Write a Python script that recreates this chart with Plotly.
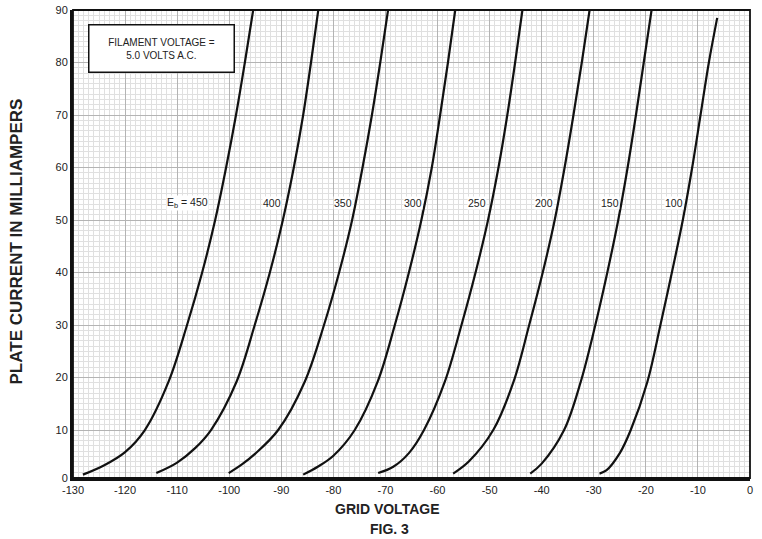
import plotly.graph_objects as go

# Plate current (mA) vs grid voltage (V) for each plate voltage Eb
eb_values = ["450", "400", "350", "300", "250", "200", "150", "100"]

v450 = [-128.1, -124.0, -120.0, -116.2, -111.65, -108.1, -105.2, -102.7, -100.6, -98.7, -97.0, -95.4]
i450 = [1.5, 3.3, 5.8, 10, 19.2, 30, 40, 50, 60, 70, 80, 90]

v400 = [-114.0, -110.0, -106.5, -103.5, -98.6, -95.1, -92.2, -89.7, -87.6, -85.8, -84.3, -82.9]
i400 = [1.8, 3.8, 6.6, 10, 19.2, 30, 40, 50, 60, 70, 80, 90]

v350 = [-100.1, -97.5, -95.0, -90.6, -85.5, -81.8, -78.9, -76.4, -74.4, -72.6, -71.0, -69.5]
i350 = [1.8, 3.5, 5.5, 10, 19.2, 30, 40, 50, 60, 70, 80, 90]

v300 = [-85.8, -83.0, -80.0, -75.9, -71.5, -68.2, -65.5, -63.1, -61.1, -59.5, -58.0, -56.6]
i300 = [1.5, 3.0, 5.1, 10, 19.2, 30, 40, 50, 60, 70, 80, 90]

v250 = [-71.4, -68.5, -65.5, -62.6, -58.6, -55.4, -52.7, -50.3, -48.3, -46.6, -45.1, -43.7]
i250 = [1.8, 3.0, 5.6, 10, 19.2, 30, 40, 50, 60, 70, 80, 90]

v200 = [-57.0, -54.0, -49.3, -45.4, -42.4, -39.8, -37.5, -35.6, -33.9, -32.3, -30.8]
i200 = [1.7, 4.0, 10, 19.2, 30, 40, 50, 60, 70, 80, 90]

v150 = [-42.2, -40.0, -35.7, -32.5, -29.7, -27.4, -25.3, -23.5, -21.9, -20.4, -18.9]
i150 = [1.7, 3.6, 10, 19.2, 30, 40, 50, 60, 70, 80, 90]

v100 = [-28.9, -27.6, -25.0, -22.9, -19.7, -17.2, -15.0, -12.9, -11.1, -9.5, -7.9, -6.3]
i100 = [1.7, 2.3, 5.6, 10, 19.2, 30, 40, 50, 60, 70, 80, 88.5]

curves_v = [v450, v400, v350, v300, v250, v200, v150, v100]
curves_i = [i450, i400, i350, i300, i250, i200, i150, i100]

# curve labels
label_text = ["E<sub>b</sub> = 450", "400", "350", "300", "250", "200", "150", "100"]
label_x = [-108.0, -91.8, -78.1, -64.7, -52.5, -39.5, -26.8, -14.5]
label_y = [53.2] * 8

x_ticks = list(range(-130, 1, 10))
x_tick_text = [str(v) for v in x_ticks]
y_tick_vals = [0.86, 10, 20, 30, 40, 50, 60, 70, 80, 90]
y_tick_text = ["0", "10", "20", "30", "40", "50", "60", "70", "80", "90"]

FONT = "Liberation Sans, Arial, Helvetica, sans-serif"
TXT = "#222222"

fig = go.Figure()
for vs, cs, eb in zip(curves_v, curves_i, eb_values):
    fig.add_trace(go.Scatter(
        x=vs, y=cs, mode="lines", name="Eb=" + eb,
        line=dict(color="#111111", width=2.2, shape="spline", smoothing=1.0),
        hoverinfo="x+y", showlegend=False,
    ))

for t, x, y in zip(label_text, label_x, label_y):
    fig.add_annotation(x=x, y=y, text=t, showarrow=False,
                       font=dict(family=FONT, size=10.5, color=TXT),
                       bgcolor="white", borderpad=0)

# filament voltage box
fig.add_annotation(x=-113.0, y=82.6, text="FILAMENT VOLTAGE =<br>5.0 VOLTS A.C.",
                   showarrow=False, font=dict(family=FONT, size=10, color=TXT),
                   bgcolor="white", bordercolor="#111111", borderwidth=1.5,
                   width=140, height=42, borderpad=2)

# titles
fig.add_annotation(xref="paper", yref="paper", x=-0.083, y=0.505,
                   xanchor="center", yanchor="middle",
                   text="<b>PLATE CURRENT IN MILLIAMPERS</b>",
                   textangle=-90, showarrow=False, font=dict(family=FONT, size=17, color=TXT))
fig.add_annotation(xref="paper", yref="paper", x=0.464, y=-0.066,
                   xanchor="center", yanchor="middle", text="<b>GRID VOLTAGE</b>",
                   showarrow=False, font=dict(family=FONT, size=14, color=TXT))
fig.add_annotation(xref="paper", yref="paper", x=0.467, y=-0.109,
                   xanchor="center", yanchor="middle", text="<b>FIG. 3</b>",
                   showarrow=False, font=dict(family=FONT, size=14, color=TXT))

# frame
fig.add_shape(type="rect", xref="paper", yref="paper", x0=0, y0=0, x1=1, y1=1,
              line=dict(color="#111111", width=1.8), layer="above")

fig.update_xaxes(range=[-130, 0], tickvals=x_ticks, ticktext=x_tick_text, ticks="",
                 automargin=False,
                 showgrid=True, gridcolor="#b4b4b4", gridwidth=1.2,
                 minor=dict(dtick=1, tick0=0, showgrid=True, gridcolor="#e0e0e0", gridwidth=0.6),
                 showline=True, linecolor="#111111", linewidth=3, zeroline=False,
                 tickfont=dict(family=FONT, size=11, color=TXT))
fig.update_yaxes(range=[0.86, 90], tickvals=y_tick_vals, ticktext=y_tick_text, ticks="",
                 automargin=False,
                 showgrid=True, gridcolor="#b4b4b4", gridwidth=1.2,
                 minor=dict(dtick=1, tick0=0, showgrid=True, gridcolor="#e0e0e0", gridwidth=0.6),
                 showline=True, linecolor="#111111", linewidth=3, zeroline=False,
                 tickfont=dict(family=FONT, size=11, color=TXT))

fig.update_layout(width=762, height=539,
                  margin=dict(l=73, r=12, t=10, b=61),
                  plot_bgcolor="white", paper_bgcolor="white",
                  font=dict(family=FONT))

fig.write_html("out.html", config={"displayModeBar": False},
               post_script="document.body.style.margin='0';")
